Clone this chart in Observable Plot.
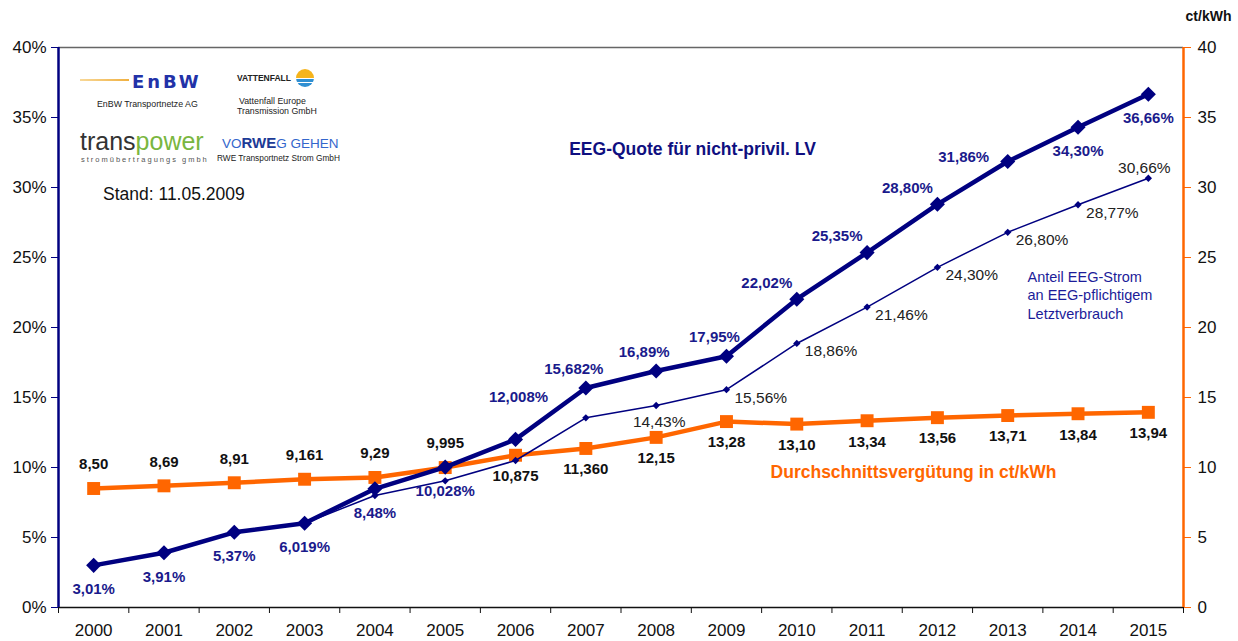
<!DOCTYPE html>
<html><head><meta charset="utf-8">
<script src="https://cdn.jsdelivr.net/npm/d3@7"></script>
<script src="https://cdn.jsdelivr.net/npm/@observablehq/plot@0.6"></script>
<style>
html,body{margin:0;padding:0;background:#fff;}
#wrap{position:relative;width:1238px;height:641px;font-family:"Liberation Sans",Arial,sans-serif;overflow:hidden}
#wrap svg{position:absolute;left:0;top:0}
.ov{position:absolute;white-space:nowrap;line-height:1}
</style></head><body>
<div id="wrap"></div>
<script>
// ---- data ----
const years = [2000, 2001, 2002, 2003, 2004, 2005, 2006, 2007, 2008, 2009, 2010, 2011, 2012, 2013, 2014, 2015];
const eegQuote = [3.01, 3.91, 5.37, 6.019, 8.48, 10.028, 12.008, 15.682, 16.89, 17.95, 22.02, 25.35, 28.80, 31.86, 34.30, 36.66];
const eegQuoteLabels = ["3,01%", "3,91%", "5,37%", "6,019%", "8,48%", "10,028%", "12,008%", "15,682%", "16,89%", "17,95%", "22,02%", "25,35%", "28,80%", "31,86%", "34,30%", "36,66%"];
const verguetung = [8.50, 8.69, 8.91, 9.161, 9.29, 9.995, 10.875, 11.360, 12.15, 13.28, 13.10, 13.34, 13.56, 13.71, 13.84, 13.94];
const verguetungLabels = ["8,50", "8,69", "8,91", "9,161", "9,29", "9,995", "10,875", "11,360", "12,15", "13,28", "13,10", "13,34", "13,56", "13,71", "13,84", "13,94"];
const anteilYears = [2003, 2004, 2005, 2006, 2007, 2008, 2009, 2010, 2011, 2012, 2013, 2014, 2015];
const anteil = [6.019, 8.0, 9.05, 10.5, 13.55, 14.43, 15.56, 18.86, 21.46, 24.30, 26.80, 28.77, 30.66];
const anteilLabels = ["", "", "", "", "", "14,43%", "15,56%", "18,86%", "21,46%", "24,30%", "26,80%", "28,77%", "30,66%"];
const yTicks = [0, 5, 10, 15, 20, 25, 30, 35, 40];
const leftTickLabels = ["0%", "5%", "10%", "15%", "20%", "25%", "30%", "35%", "40%"];
const rightTickLabels = ["0", "5", "10", "15", "20", "25", "30", "35", "40"];

// ---- tables ----
const quoteData = years.map((year, i) => ({year, value: eegQuote[i], label: eegQuoteLabels[i], i}));
const vergData = years.map((year, i) => ({year, value: verguetung[i], label: verguetungLabels[i], i}));
const anteilData = anteilYears.map((year, i) => ({year, value: anteil[i], label: anteilLabels[i], i}));
const boundaries = years.map(y => y - 0.5).concat([years[years.length - 1] + 0.5]);
const pick = (arr, idx) => arr.filter(d => idx.includes(d.i));

const NAVY = "#000080";
const NAVYTXT = "#1a1a8c";
const ORANGE = "#ff6600";
const FONT = "Liberation Sans, Arial, sans-serif";

const chart = Plot.plot({
  width: 1238, height: 641,
  marginLeft: 58, marginRight: 55, marginTop: 47, marginBottom: 34,
  style: {fontFamily: FONT, fontSize: "17px", background: "transparent", overflow: "visible"},
  x: {domain: [boundaries[0], boundaries[boundaries.length - 1]]},
  y: {domain: [0, 40]},
  marks: [
    Plot.ruleY([40], {stroke: "#666", strokeWidth: 1.5}),
    Plot.axisX(boundaries, {tickSize: 6, tickFormat: () => "", stroke: "#111", label: null}),
    Plot.axisX(years, {tickSize: 0, tickPadding: 16, tickFormat: d => String(d), fill: "#111", label: null}),
    Plot.axisY(yTicks, {anchor: "left", tickSize: 7, tickPadding: 5, stroke: NAVY, fill: "#111",
      tickFormat: (d) => leftTickLabels[yTicks.indexOf(d)], label: null}),
    Plot.axisY(yTicks, {anchor: "right", tickSize: 7, tickPadding: 7, stroke: ORANGE, fill: "#111",
      tickFormat: (d) => rightTickLabels[yTicks.indexOf(d)], label: null}),
    Plot.ruleY([0], {stroke: "#111", strokeWidth: 1.3}),
    Plot.ruleX([boundaries[0]], {stroke: NAVY, strokeWidth: 2.5}),
    Plot.ruleX([boundaries[boundaries.length - 1]], {stroke: ORANGE, strokeWidth: 2.5}),

    // Durchschnittsvergütung
    Plot.line(vergData, {x: "year", y: "value", stroke: ORANGE, strokeWidth: 4.5}),
    Plot.dot(vergData, {x: "year", y: "value", symbol: "square", r: 7.3, fill: ORANGE, stroke: "none"}),
    // Anteil EEG-Strom
    Plot.line(anteilData, {x: "year", y: "value", stroke: NAVY, strokeWidth: 1.5}),
    Plot.dot(anteilData, {x: "year", y: "value", symbol: "diamond2", r: 3.3, fill: NAVY, stroke: "none"}),
    // EEG-Quote
    Plot.line(quoteData, {x: "year", y: "value", stroke: NAVY, strokeWidth: 4.5}),
    Plot.dot(quoteData, {x: "year", y: "value", symbol: "diamond2", r: 6.8, fill: NAVY, stroke: "none"}),

    // labels EEG-Quote
    Plot.text(pick(quoteData, [0, 1, 2, 3, 4, 5, 14, 15]), {x: "year", y: "value", text: "label", dy: 24, fill: NAVYTXT, fontWeight: "bold", fontSize: 15}),
    Plot.text(pick(quoteData, [6]), {x: "year", y: "value", text: "label", dx: 3, dy: -42, fill: NAVYTXT, fontWeight: "bold", fontSize: 15}),
    Plot.text(pick(quoteData, [7, 8, 9]), {x: "year", y: "value", text: "label", dx: -12, dy: -19, fill: NAVYTXT, fontWeight: "bold", fontSize: 15}),
    Plot.text(pick(quoteData, [10, 11, 12]), {x: "year", y: "value", text: "label", dx: -30, dy: -16, fill: NAVYTXT, fontWeight: "bold", fontSize: 15}),
    Plot.text(pick(quoteData, [13]), {x: "year", y: "value", text: "label", dx: -44, dy: -4, fill: NAVYTXT, fontWeight: "bold", fontSize: 15}),

    // labels Vergütung
    Plot.text(pick(vergData, [0, 1, 2, 3, 4, 5]), {x: "year", y: "value", text: "label", dy: -24, fill: "#111", fontWeight: "bold", fontSize: 15}),
    Plot.text(pick(vergData, [6, 7, 8, 9, 10, 11, 12, 13, 14, 15]), {x: "year", y: "value", text: "label", dy: 21, fill: "#111", fontWeight: "bold", fontSize: 15}),

    // labels Anteil
    Plot.text(pick(anteilData, [5]), {x: "year", y: "value", text: "label", dx: 3, dy: 17, fill: "#222", fontSize: 15.5}),
    Plot.text(pick(anteilData, [6, 7, 8, 9, 10, 11]), {x: "year", y: "value", text: "label", textAnchor: "start", dx: 8, dy: 8, fill: "#222", fontSize: 15.5}),
    Plot.text(pick(anteilData, [12]), {x: "year", y: "value", text: "label", dx: -4, dy: -10, fill: "#222", fontSize: 15.5}),

    // series titles
    Plot.text(["EEG-Quote für nicht-privil. LV"], {frameAnchor: "top-left", dx: 634, dy: 102, textAnchor: "middle", lineAnchor: "middle", fill: "#0f0f80", fontWeight: "bold", fontSize: 17.5}),
    Plot.text(["Durchschnittsvergütung in ct/kWh"], {frameAnchor: "top-left", dx: 855, dy: 425, textAnchor: "middle", lineAnchor: "middle", fill: ORANGE, fontWeight: "bold", fontSize: 17.5}),
    Plot.text(["Anteil EEG-Strom\nan EEG-pflichtigem\nLetztverbrauch"], {frameAnchor: "top-left", dx: 969, dy: 247, textAnchor: "start", lineAnchor: "middle", lineHeight: 1.28, fill: "#1c1c99", fontSize: 14.5}),
    Plot.text(["ct/kWh"], {frameAnchor: "top-left", dx: 1150, dy: -31, textAnchor: "middle", lineAnchor: "middle", fill: "#111", fontWeight: "bold", fontSize: 14})
  ]
});
const wrap = document.getElementById("wrap");
wrap.appendChild(chart);

// logos / annotations (overlay)
const overlay = `
<div class="ov" style="left:80px;top:79px;width:49px;height:1.6px;background:linear-gradient(90deg,#f8d898,#f0b040)"></div>
<div class="ov" style="left:132px;top:71px;font:bold 18px 'DejaVu Sans';letter-spacing:3px;color:#2232a8">EnBW</div>
<div class="ov" style="left:97px;top:99.6px;font-size:8.8px;color:#222">EnBW Transportnetze AG</div>
<div class="ov" style="left:237px;top:73.7px;font-size:8.5px;font-weight:bold;color:#222">VATTENFALL</div>
<div class="ov" style="left:296px;top:69px;width:18px;height:18px;border-radius:50%;background:linear-gradient(#f6b41c 0 50%,#fff 50% 57%,#2f8fd2 57% 70%,#fff 70% 77%,#2f8fd2 77%)"></div>
<div class="ov" style="left:239px;top:96.6px;font-size:8.8px;color:#222">Vattenfall Europe</div>
<div class="ov" style="left:237px;top:106.6px;font-size:8.8px;color:#222">Transmission GmbH</div>
<div class="ov" style="left:80px;top:128.8px;font-size:25px;color:#333">trans<span style="color:#7ab640">power</span></div>
<div class="ov" style="left:81px;top:156px;font-size:7.5px;letter-spacing:2px;color:#555">stromübertragungs gmbh</div>
<div class="ov" style="left:222px;top:135px;font-size:13.5px;color:#3366cc">VO<b style="color:#1c3a96;font-size:15px">RWE</b>G GEHEN</div>
<div class="ov" style="left:217px;top:154px;font-size:8.3px;color:#222">RWE Transportnetz Strom GmbH</div>
<div class="ov" style="left:103px;top:186px;font-size:17.5px;color:#111">Stand: 11.05.2009</div>
`;
wrap.insertAdjacentHTML("beforeend", overlay);
</script>
</body></html>
